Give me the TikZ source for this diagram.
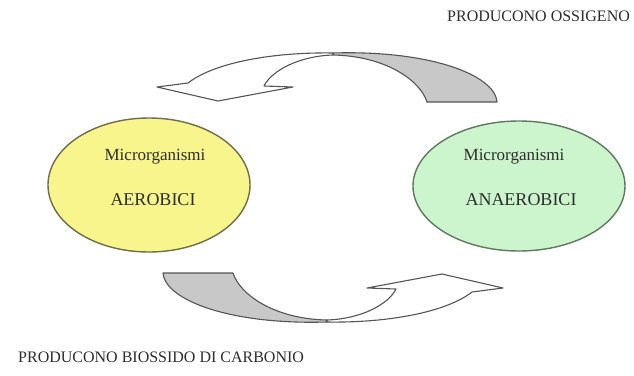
\documentclass[tikz,border=0pt]{standalone}
\usepackage{fontspec}
\setmainfont{Liberation Serif}
\usetikzlibrary{shapes.geometric}
\definecolor{yfill}{RGB}{248,245,140}
\definecolor{gfill}{RGB}{205,245,205}
\definecolor{yline}{RGB}{110,110,75}
\definecolor{gline}{RGB}{95,120,95}
\definecolor{arrline}{RGB}{85,85,85}
\definecolor{arrgray}{RGB}{200,200,200}
\definecolor{txt}{RGB}{45,45,45}
\tikzset{
  blob/.style={ellipse, line width=1.4pt, inner sep=0pt},
  intext/.style={text=txt, font=\fontsize{17}{19}\selectfont, inner sep=0pt},
  captext/.style={text=txt, font=\fontsize{18}{20}\selectfont, inner sep=0pt},
  labtext/.style={text=txt, font=\fontsize{16}{18}\selectfont, inner sep=0pt},
  arrpart/.style={draw=arrline, line width=1.1pt, line join=round},
}
\begin{document}
\begin{tikzpicture}[x=1pt,y=-1pt]
\useasboundingbox (0,0) rectangle (634,375);
\fill[white] (0,0) rectangle (634,375);

% ellipses
\node[blob, draw=yline, fill=yfill, minimum width=202pt, minimum height=134pt] (aer) at (149,185) {};
\node[blob, draw=gline, fill=gfill, minimum width=212pt, minimum height=130pt] (ana) at (519,186) {};
\node[intext] (m1) at (155,157) {Microrganismi};
\node[captext] (a1) at (153,200) {AEROBICI};
\node[intext] (m2) at (514,157) {Microrganismi};
\node[captext] (a2) at (521,200) {ANAEROBICI};

% labels
\node[labtext, anchor=west] (top) at (447,16) {PRODUCONO OSSIGENO};
\node[labtext, anchor=west] (bot) at (18,357) {PRODUCONO BIOSSIDO DI CARBONIO};

% curved arrows
\newcommand{\curvedarrow}{%
  \path[arrpart, fill=arrgray] (333,53) .. controls (430,50) and (495,75) .. (497,102)
     -- (427,102) .. controls (420,80) and (385,56) .. (333,55) -- cycle;
  \path[arrpart, fill=white] (333,53) .. controls (275,52) and (215,62) .. (188,83)
     -- (157,87) -- (218,101) -- (293,87) -- (264,86)
     .. controls (272,70) and (300,56) .. (333,55) -- cycle;
}
\curvedarrow
\begin{scope}[rotate around={180:(330,187.5)}]
\curvedarrow
\end{scope}
\end{tikzpicture}
\end{document}
